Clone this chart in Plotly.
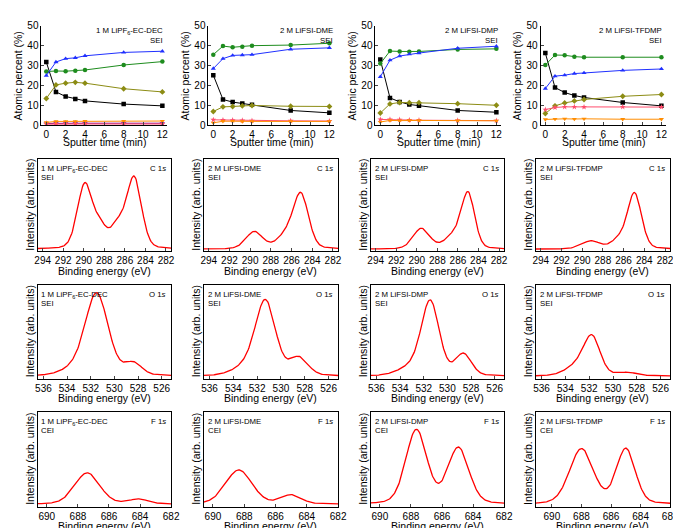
import numpy as np
import plotly.graph_objects as go

W, H = 681, 528
FONT = "Liberation Sans, Arial, sans-serif"

sputter_time = [0, 1, 2, 3, 4, 8, 12]

a_C = [31.8, 16.8, 14.5, 13.3, 12.3, 10.7, 9.8]
a_O = [27.0, 27.3, 27.2, 27.4, 27.8, 30.3, 32.0]
a_F = [13.5, 20.3, 21.2, 21.6, 21.2, 18.4, 16.8]
a_P = [1.0, 1.1, 1.1, 1.1, 1.1, 1.1, 1.1]
a_Li = [25.0, 31.8, 33.5, 33.9, 34.9, 36.6, 37.2]
a_S = [0.6, 0.7, 0.7, 0.7, 0.7, 0.7, 0.7]
a_N = [1.5, 2.0, 2.0, 2.0, 2.1, 2.1, 2.2]

b_C = [25.2, 13.0, 11.7, 11.0, 10.4, 7.5, 6.3]
b_O = [35.5, 39.8, 39.2, 39.5, 40.0, 40.3, 41.2]
b_F = [7.0, 9.3, 9.5, 9.8, 10.0, 9.6, 9.5]
b_Li = [28.5, 33.5, 35.1, 35.3, 35.5, 38.2, 38.9]
b_S = [2.8, 2.7, 2.6, 2.5, 2.4, 2.3, 2.2]
b_N = [1.3, 2.1, 2.1, 2.0, 2.0, 2.0, 2.0]

c_C = [33.0, 13.8, 11.8, 10.5, 9.9, 7.5, 6.6]
c_O = [31.0, 37.3, 37.1, 37.0, 37.1, 38.1, 38.4]
c_F = [6.2, 10.8, 11.5, 11.4, 11.4, 10.9, 10.1]
c_Li = [24.4, 32.7, 34.8, 35.7, 36.3, 38.7, 39.7]
c_S = [3.0, 3.0, 2.9, 2.7, 2.6, 2.5, 2.4]
c_N = [1.7, 2.5, 2.4, 2.5, 2.5, 2.4, 2.3]

d_C = [36.3, 19.0, 16.5, 15.0, 14.0, 11.5, 9.8]
d_O = [30.3, 35.3, 35.2, 34.5, 34.2, 34.2, 34.2]
d_F = [6.0, 9.8, 11.3, 12.3, 13.0, 14.6, 15.5]
d_Li = [18.5, 24.7, 25.2, 26.0, 26.3, 27.6, 28.3]
d_S = [7.9, 9.0, 9.3, 9.3, 9.2, 9.3, 9.2]
d_N = [3.0, 3.2, 3.3, 3.2, 3.3, 3.1, 3.1]

electrolytes = ["1 M LiPF<sub>6</sub>-EC-DEC", "2 M LiFSI-DME", "2 M LiFSI-DMP", "2 M LiFSI-TFDMP"]

e_center = [289.9, 288.4, 286.7, 285.1]; e_height = [0.69, 0.21, 0.23, 0.76]; e_fwhm = [1.7, 1.5, 1.6, 1.7]
f_center = [289.6, 286.6, 285.1]; f_height = [0.185, 0.13, 0.58]; f_fwhm = [1.9, 2.0, 1.75]
g_center = [289.55, 286.4, 285.0]; g_height = [0.22, 0.14, 0.58]; g_fwhm = [1.9, 2.0, 1.5]
h_center = [289.15, 286.5, 284.95]; h_height = [0.085, 0.09, 0.60]; h_fwhm = [2.1, 1.6, 1.6]
i_center = [533.6, 531.5, 528.4]; i_height = [0.055, 0.88, 0.13]; i_fwhm = [2.4, 2.3, 1.7]
j_center = [533.0, 531.3, 528.5]; j_height = [0.085, 0.79, 0.19]; j_fwhm = [2.5, 2.0, 1.8]
k_center = [533.2, 531.45, 528.65]; k_height = [0.08, 0.79, 0.23]; k_fwhm = [2.4, 1.8, 1.6]
l_center = [532.9, 531.75, 528.8]; l_height = [0.115, 0.38, 0.035]; l_fwhm = [2.4, 1.6, 2.0]
m_center = [687.4, 684.1]; m_height = [0.33, 0.05]; m_fwhm = [1.9, 1.5]
n_center = [688.35, 685.0]; n_height = [0.36, 0.095]; n_fwhm = [2.0, 1.5]
o_center = [687.65, 684.95]; o_height = [0.78, 0.59]; o_fwhm = [1.6, 1.6]
p_center = [688.0, 685.0]; p_height = [0.58, 0.58]; p_fwhm = [1.9, 1.5]

EL_COLOR = {"C": "#000000", "O": "#1e8c1e", "F": "#8c8c14", "Li": "#2030ff",
            "N": "#ff8c00", "P": "#8b008b", "S": "#ff4d6d"}
EL_SYMBOL = {"C": "square", "O": "circle", "F": "diamond", "Li": "triangle-up",
             "N": "triangle-down", "P": "star", "S": "star"}

fig = go.Figure()
annotations, shapes = [], []


def pp(x, y):
    return x / W, 1 - y / H


def text(t, x, y, size, color="black", xanchor="center", yanchor="middle", angle=0):
    px, py = pp(x, y)
    annotations.append(dict(text=t, x=px, y=py, xref="paper", yref="paper", showarrow=False,
                            xanchor=xanchor, yanchor=yanchor, textangle=angle,
                            font=dict(family=FONT, size=size, color=color)))


def suffix(i):
    return "" if i == 1 else str(i)


layout_axes = {}
row1_x = [(31, 159), (201, 329), (371, 499), (539, 667)]
row1_y = (12, 114)
depth_series = [
    [("C", a_C), ("O", a_O), ("F", a_F), ("P", a_P), ("Li", a_Li), ("S", a_S), ("N", a_N)],
    [("C", b_C), ("O", b_O), ("F", b_F), ("Li", b_Li), ("S", b_S), ("N", b_N)],
    [("C", c_C), ("O", c_O), ("F", c_F), ("Li", c_Li), ("S", c_S), ("N", c_N)],
    [("C", d_C), ("O", d_O), ("F", d_F), ("Li", d_Li), ("S", d_S), ("N", d_N)],
]
hdr_right = [157, 330, 498, 665]

for k in range(4):
    s = suffix(k + 1)
    x0, x1 = row1_x[k]
    layout_axes["xaxis" + s] = dict(domain=[x0 / W, x1 / W], anchor="y" + s, range=[-0.5, 12.5],
                                    dtick=2, tick0=0, ticks="inside", ticklen=3,
                                    showline=True, linecolor="black", linewidth=1,
                                    showgrid=False, zeroline=False,
                                    tickfont=dict(family=FONT, size=10, color="black"))
    layout_axes["yaxis" + s] = dict(domain=[1 - row1_y[1] / H, 1 - row1_y[0] / H], anchor="x" + s,
                                    range=[0, 50], dtick=10, tick0=0, ticks="inside", ticklen=3,
                                    showline=True, linecolor="black", linewidth=1,
                                    showgrid=False, zeroline=False,
                                    tickfont=dict(family=FONT, size=10, color="black"))
    for el, vals in depth_series[k]:
        fig.add_trace(go.Scatter(x=sputter_time, y=vals, mode="lines+markers", xaxis="x" + s, yaxis="y" + s,
                                 line=dict(color=EL_COLOR[el], width=1),
                                 marker=dict(symbol=EL_SYMBOL[el], size=4.5, color=EL_COLOR[el]),
                                 showlegend=False, name=el))
    text(electrolytes[k], hdr_right[k], 17, 7.8, xanchor="right")
    text("SEI", hdr_right[k], 27.5, 7.8, xanchor="right")
    text("Sputter time (min)", (x0 + x1) / 2, 131, 10.5)
    text("Atomic percent (%)", x0 - 24, 63, 10.5, angle=-90)

xps_cols = [(27, 163), (196, 333), (366, 502), (534, 671)]
xps_rows = [(148, 243), (277, 373), (407, 504)]
xps_panels = [
    dict(c=e_center, h=e_height, w=e_fwhm, rng=(294.5, 281.5)),
    dict(c=f_center, h=f_height, w=f_fwhm, rng=(294.5, 281.5)),
    dict(c=g_center, h=g_height, w=g_fwhm, rng=(294.5, 281.5)),
    dict(c=h_center, h=h_height, w=h_fwhm, rng=(294.5, 281.5)),
    dict(c=i_center, h=i_height, w=i_fwhm, rng=(536.5, 525.2)),
    dict(c=j_center, h=j_height, w=j_fwhm, rng=(536.5, 525.2)),
    dict(c=k_center, h=k_height, w=k_fwhm, rng=(536.5, 525.2)),
    dict(c=l_center, h=l_height, w=l_fwhm, rng=(536.5, 525.2)),
    dict(c=m_center, h=m_height, w=m_fwhm, rng=(690.6, 682.0)),
    dict(c=n_center, h=n_height, w=n_fwhm, rng=(690.6, 682.0)),
    dict(c=o_center, h=o_height, w=o_fwhm, rng=(690.6, 682.0)),
    dict(c=p_center, h=p_height, w=p_fwhm, rng=(691.1, 682.0)),
]
core_levels = ["C 1<i>s</i>", "O 1<i>s</i>", "F 1<i>s</i>"]
layer = ["SEI", "SEI", "CEI"]


def component(x, c, h, fwhm, eta=0.2):
    sig = fwhm / 2.3548
    g = np.exp(-0.5 * ((x - c) / sig) ** 2)
    lor = 1.0 / (1.0 + ((x - c) / (fwhm / 2)) ** 2)
    return h * ((1 - eta) * g + eta * lor)


for q, pan in enumerate(xps_panels):
    row, col = divmod(q, 4)
    s = suffix(q + 5)
    x0, x1 = xps_cols[col]
    yt, yb = xps_rows[row]
    hi, lo = pan["rng"]
    layout_axes["xaxis" + s] = dict(domain=[x0 / W, x1 / W], anchor="y" + s, range=[hi, lo],
                                    dtick=2, tick0=0, ticks="inside", ticklen=3,
                                    showline=True, mirror=True, linecolor="black", linewidth=1,
                                    showgrid=False, zeroline=False,
                                    tickfont=dict(family=FONT, size=10, color="black"))
    layout_axes["yaxis" + s] = dict(domain=[1 - yb / H, 1 - yt / H], anchor="x" + s,
                                    range=[-0.025, 0.975], showticklabels=False, ticks="",
                                    showline=True, mirror=True, linecolor="black", linewidth=1,
                                    showgrid=False, zeroline=False)
    xa = np.linspace(lo, hi, 200)
    env = np.sum([component(xa, c, h, w) for c, h, w in zip(pan["c"], pan["h"], pan["w"])], axis=0)
    fig.add_trace(go.Scatter(x=xa.round(3).tolist(), y=env.round(4).tolist(), mode="lines",
                             xaxis="x" + s, yaxis="y" + s,
                             line=dict(color="#ff0000", width=1.3), showlegend=False))
    text(electrolytes[col], x0 + 2, yt + 3, 7.8, xanchor="left", yanchor="top")
    text(layer[row], x0 + 2, yt + 12.5, 7.8, xanchor="left", yanchor="top")
    text(core_levels[row], x1 - 3, yt + 3, 7.8, xanchor="right", yanchor="top")
    text("Binding energy (eV)", (x0 + x1) / 2, yb + 19.5, 10.5)
    text("Intensity (arb. units)", x0 - 8, (yt + yb) / 2, 10.5, angle=-90)

fig.update_layout(width=W, height=H, margin=dict(l=0, r=0, t=0, b=0),
                  paper_bgcolor="white", plot_bgcolor="white", showlegend=False,
                  font=dict(family=FONT, size=10, color="black"),
                  annotations=annotations, **layout_axes)

fig.write_html("out.html")
